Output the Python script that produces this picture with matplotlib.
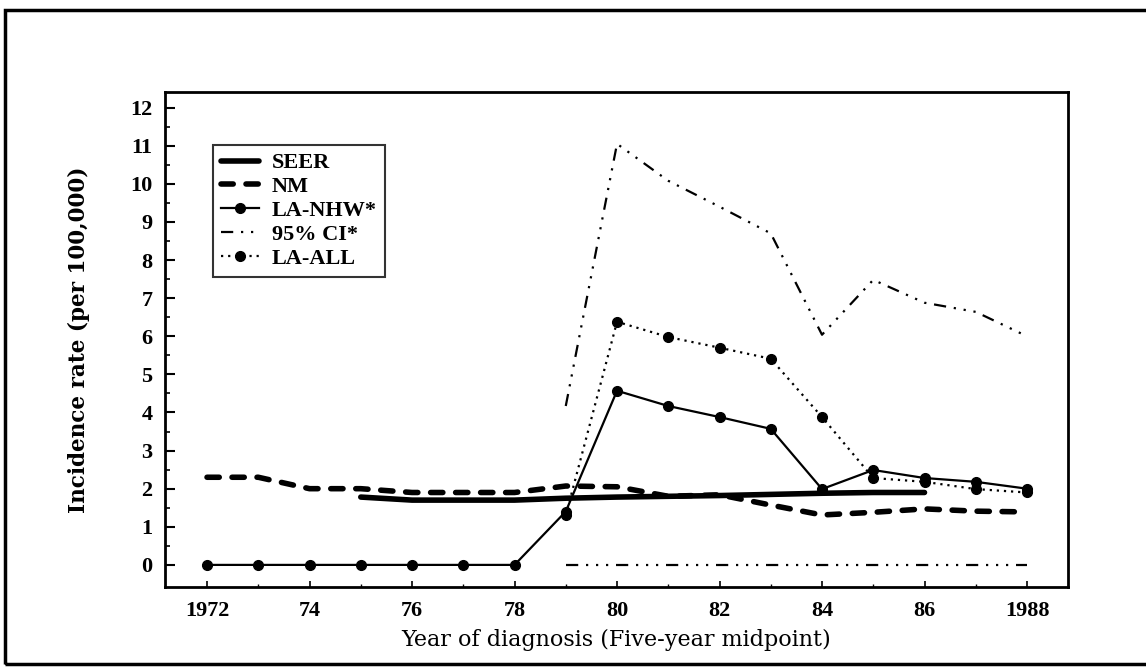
import matplotlib.pyplot as plt
from matplotlib.patches import Rectangle

# 數據
years = list(range(1972, 1989))
seer_years = list(range(1975, 1987))
seer = [1.78, 1.70, 1.70, 1.70, 1.75, 1.78, 1.80, 1.82, 1.85, 1.88, 1.90, 1.90]
nm = [2.3, 2.3, 2.0, 2.0, 1.9, 1.9, 1.9, 2.07, 2.05, 1.8, 1.84, 1.57, 1.31, 1.38, 1.47, 1.41, 1.39]
la_nhw = [0, 0, 0, 0, 0, 0, 0, 1.4, 4.57, 4.17, 3.88, 3.57, 1.99, 2.49, 2.28, 2.18, 2.0]
ci_years = list(range(1979, 1989))
ci_upper = [4.17, 11.05, 10.08, 9.4, 8.7, 6.04, 7.48, 6.88, 6.64, 6.0]
ci_lower = [0, 0, 0, 0, 0, 0, 0, 0, 0, 0]
la_all_years = list(range(1979, 1989))
la_all = [1.3, 6.38, 5.98, 5.70, 5.41, 3.88, 2.28, 2.18, 1.99, 1.9]

xticks = [1972, 1974, 1976, 1978, 1980, 1982, 1984, 1986, 1988]
xtick_labels = ['1972', '74', '76', '78', '80', '82', '84', '86', '1988']

plt.rcParams['font.family'] = ['Liberation Serif', 'DejaVu Serif']

fig = plt.figure(figsize=(11.46, 6.72), dpi=100)
fig.patch.set_facecolor('white')

# 外框
fig.patches.append(Rectangle((5 / 1146, 8 / 672), 1.0, 654 / 672, transform=fig.transFigure,
                             fill=False, edgecolor='black', linewidth=2.5))

ax = fig.add_axes([165 / 1146, 1 - 587 / 672, (1068 - 165) / 1146, (587 - 92) / 672])

ci_style = (0, (5.5, 3.5, 1, 3.5, 1, 3.5, 1, 3.5))

ax.plot(seer_years, seer, color='black', linewidth=4, solid_capstyle='round', label='SEER')
ax.plot(years, nm, color='black', linewidth=4, linestyle=(0, (2.2, 2.3)),
        dash_capstyle='round', label='NM')
ax.plot(years, la_nhw, color='black', linewidth=1.6, marker='o', markersize=7, label='LA-NHW*')
ax.plot(ci_years, ci_upper, color='black', linewidth=1.6, linestyle=ci_style, label='95% CI*')
ax.plot(ci_years, ci_lower, color='black', linewidth=1.6, linestyle=ci_style)
ax.plot(la_all_years, la_all, color='black', linewidth=1.6, linestyle=(0, (1, 2.2)),
        marker='o', markersize=7, label='LA-ALL')

ax.set_xlim(1971.18, 1988.8)
ax.set_ylim(-0.58, 12.41)
ax.set_xticks(xticks)
ax.set_xticklabels(xtick_labels)
ax.set_xticks(range(1972, 1989), minor=True)
ax.set_yticks(range(0, 13))
ax.set_yticks([i + 0.5 for i in range(0, 12)], minor=True)
ax.tick_params(axis='y', which='major', direction='in', length=7, width=1.5,
               labelsize=16, pad=9)
ax.tick_params(axis='y', which='minor', direction='in', length=3.5, width=1.2)
ax.tick_params(axis='x', which='major', direction='in', length=4, width=1.2,
               labelsize=16, pad=10)
ax.tick_params(axis='x', which='minor', direction='in', length=2.5, width=1)
for lbl in ax.get_xticklabels() + ax.get_yticklabels():
    lbl.set_fontweight('bold')
for spine in ax.spines.values():
    spine.set_linewidth(2)

ax.set_xlabel('Year of diagnosis (Five-year midpoint)', fontsize=16,
              family=['DejaVu Serif'], labelpad=6)
ax.set_ylabel('Incidence rate (per 100,000)', fontsize=15.5, fontweight='bold',
              family=['DejaVu Serif'])
ax.yaxis.set_label_coords(-0.083, 0.5)

leg = ax.legend(loc='upper left', bbox_to_anchor=(48 / 903, 1 - 53 / 495),
                prop={'size': 16, 'weight': 'bold'}, frameon=True, fancybox=False,
                edgecolor='black', handlelength=1.7, labelspacing=0.15,
                borderpad=0.35, handletextpad=0.6, borderaxespad=0)
leg.get_frame().set_linewidth(1.5)

fig.savefig('out.png', dpi=100, facecolor='white')
